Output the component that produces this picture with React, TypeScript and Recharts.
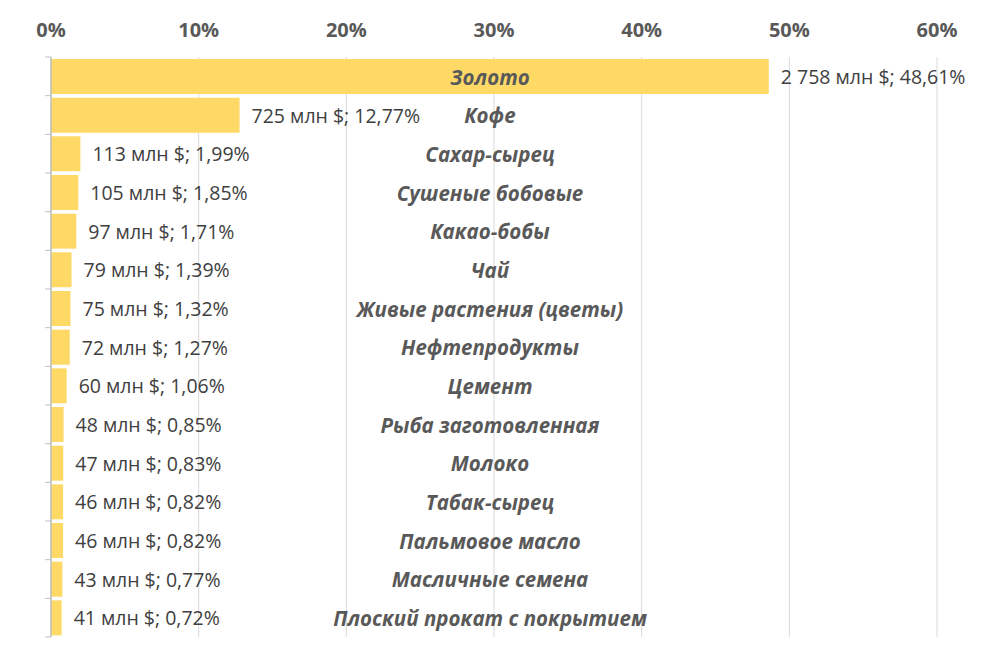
import { BarChart, Bar, XAxis, YAxis, CartesianGrid, LabelList } from 'recharts'

// категории экспорта, сверху вниз
const categories = [
  'Золото',
  'Кофе',
  'Сахар-сырец',
  'Сушеные бобовые',
  'Какао-бобы',
  'Чай',
  'Живые растения (цветы)',
  'Нефтепродукты',
  'Цемент',
  'Рыба заготовленная',
  'Молоко',
  'Табак-сырец',
  'Пальмовое масло',
  'Масличные семена',
  'Плоский прокат с покрытием',
]

// млн $
const valuesMln = [2758, 725, 113, 105, 97, 79, 75, 72, 60, 48, 47, 46, 46, 43, 41]

// доля, %
const shares = [48.61, 12.77, 1.99, 1.85, 1.71, 1.39, 1.32, 1.27, 1.06, 0.85, 0.83, 0.82, 0.82, 0.77, 0.72]

const xTicks = [0, 10, 20, 30, 40, 50, 60]

const WIDTH = 981
const HEIGHT = 664
const MARGIN = { top: 0, right: 44, bottom: 27, left: 0 }
const X_AXIS_H = 57
const Y_AXIS_W = 51
const PLOT_W = WIDTH - MARGIN.left - MARGIN.right - Y_AXIS_W
const PLOT_H = HEIGHT - MARGIN.top - MARGIN.bottom - X_AXIS_H
const BAND = PLOT_H / categories.length

const data = categories.map((name, i) => ({
  name,
  share: shares[i],
  mln: valuesMln[i],
}))

function fmtMln(v: number): string {
  return v >= 1000 ? `${Math.floor(v / 1000)} ${String(v % 1000).padStart(3, '0')}` : String(v)
}

function fmtPct(v: number): string {
  return v.toFixed(2).replace('.', ',') + '%'
}

function ValueLabel(props: any) {
  const vb = props.viewBox ?? props
  const i = props.index
  return (
    <text
      x={vb.x + vb.width + 12}
      y={vb.y + vb.height / 2}
      dominantBaseline="central"
      fill="#404040"
      fontSize={19.5}
    >
      {`${fmtMln(valuesMln[i])} млн $; ${fmtPct(shares[i])}`}
    </text>
  )
}

function NameLabel(props: any) {
  const vb = props.viewBox ?? props
  return (
    <text
      x={MARGIN.left + Y_AXIS_W + PLOT_W / 2 - 4}
      y={vb.y + vb.height / 2}
      dominantBaseline="central"
      textAnchor="middle"
      fill="#595959"
      fontSize={20.5}
      fontWeight="bold"
      fontStyle="italic"
    >
      {categories[props.index]}
    </text>
  )
}

// засечки оси Y на границах категорий
function YTick(props: any) {
  const { x, y, index } = props
  return (
    <g>
      <line x1={x - 6} x2={x} y1={y - BAND / 2} y2={y - BAND / 2} stroke="#bfbfbf" />
      {index === categories.length - 1 && (
        <line x1={x - 6} x2={x} y1={y + BAND / 2} y2={y + BAND / 2} stroke="#bfbfbf" />
      )}
    </g>
  )
}

export default function App() {
  return (
    <div style={{ position: 'absolute', left: 0, top: 0, fontFamily: '"Open Sans", sans-serif', background: '#fff' }}>
      <BarChart
        width={WIDTH}
        height={HEIGHT}
        data={data}
        layout="vertical"
        margin={MARGIN}
        barSize={35}
      >
        <CartesianGrid horizontal={false} stroke="#d9d9d9" />
        <XAxis
          type="number"
          orientation="top"
          domain={[0, 60]}
          ticks={xTicks}
          tickFormatter={(v) => `${v}%`}
          height={X_AXIS_H}
          axisLine={false}
          tickLine={false}
          tickSize={0}
          tickMargin={20}
          tick={{ fill: '#595959', fontSize: 20, fontWeight: 'bold' }}
        />
        <YAxis
          type="category"
          dataKey="name"
          width={Y_AXIS_W}
          axisLine={{ stroke: '#bfbfbf', strokeWidth: 1.5 }}
          tickLine={false}
          tickSize={0}
          tickMargin={0}
          tick={<YTick />}
          interval={0}
        />
        <Bar dataKey="share" fill="#FFD966" isAnimationActive={false}>
          <LabelList dataKey="share" content={<ValueLabel />} />
          <LabelList dataKey="name" content={<NameLabel />} />
        </Bar>
      </BarChart>
    </div>
  )
}
